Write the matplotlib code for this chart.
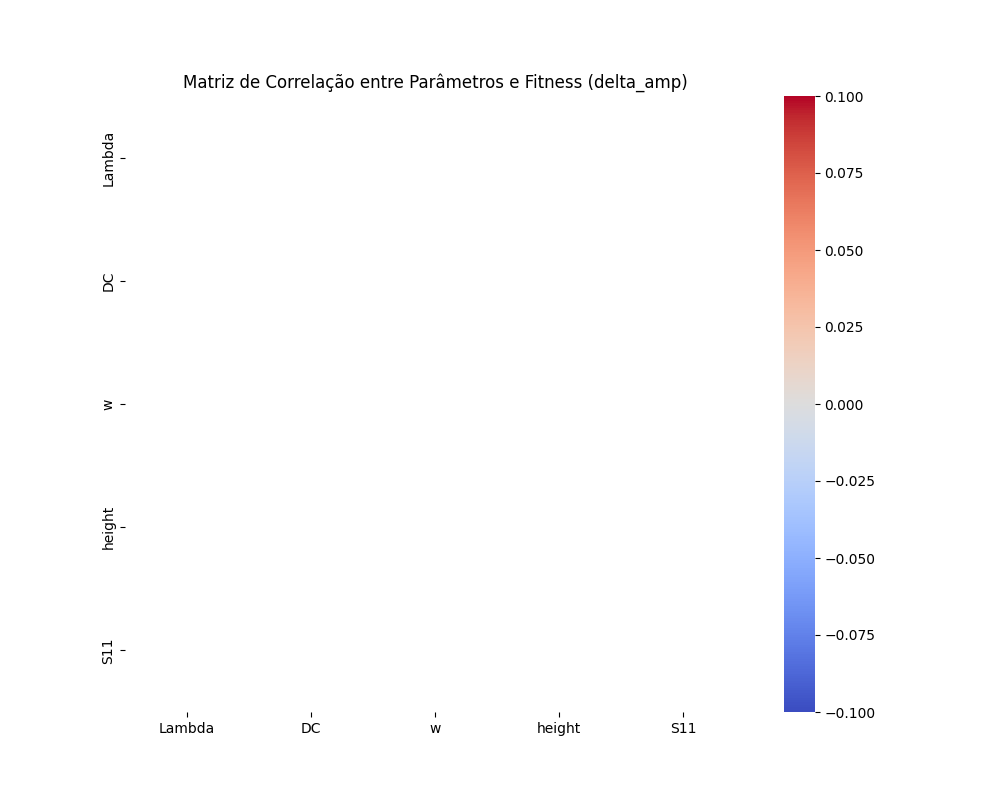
import numpy as np
import pandas as pd
import matplotlib
matplotlib.use("Agg")
import matplotlib.pyplot as plt
import seaborn as sns

# Parametros (todas as correlacoes ficaram indefinidas -> NaN)
params = ["Lambda", "DC", "w", "height", "S11"]
corr_values = [
    [np.nan, np.nan, np.nan, np.nan, np.nan],
    [np.nan, np.nan, np.nan, np.nan, np.nan],
    [np.nan, np.nan, np.nan, np.nan, np.nan],
    [np.nan, np.nan, np.nan, np.nan, np.nan],
    [np.nan, np.nan, np.nan, np.nan, np.nan],
]

corr = pd.DataFrame(corr_values, index=params, columns=params)

plt.figure(figsize=(10, 8))
sns.heatmap(corr, annot=True, cmap="coolwarm", fmt=".2f", vmin=-0.1, vmax=0.1)
plt.title("Matriz de Correlação entre Parâmetros e Fitness (delta_amp)")
plt.savefig("out.png", dpi=100)
plt.close()
